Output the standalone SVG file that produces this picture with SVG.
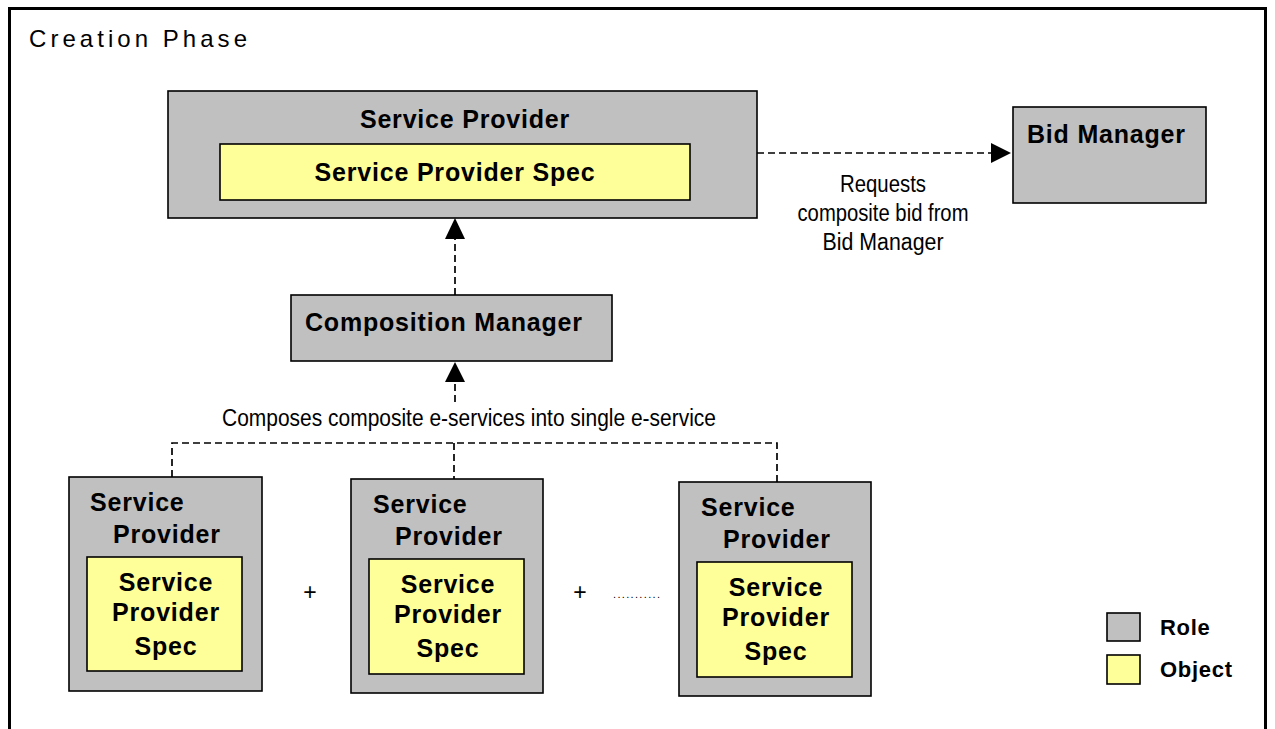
<svg xmlns="http://www.w3.org/2000/svg" width="1275" height="729" viewBox="0 0 1275 729">
<style>
.role{fill:#c0c0c0;stroke:#000;stroke-width:1.6}
.obj{fill:#ffff99;stroke:#000;stroke-width:1.6}
.b{font-family:"Liberation Sans",Arial,sans-serif;font-weight:bold;font-size:25px;letter-spacing:0.8px;fill:#000}
.bc{text-anchor:middle}
.n{font-family:"Liberation Sans Narrow","Liberation Sans",Arial,sans-serif;font-size:23px;fill:#000}
.dash{fill:none;stroke:#000;stroke-width:1.7;stroke-dasharray:7,4}
.lg{font-family:"Liberation Sans",Arial,sans-serif;font-weight:bold;font-size:22px;letter-spacing:0.7px;fill:#000}
</style>
<rect width="1275" height="729" fill="#fff"/>
<rect x="9.5" y="8.5" width="1256" height="740" fill="none" stroke="#000" stroke-width="3"/>
<text x="29" y="47" font-family="'Liberation Sans',Arial,sans-serif" font-size="24" textLength="218" lengthAdjust="spacing">Creation Phase</text>

<g id="connectors">
<path class="dash" d="M757,153 H992"/>
<path d="M1011,153 L991,143 L991,163 z" fill="#000"/>
<path class="dash" d="M455,295 V239"/>
<path d="M455,218 L445,239 L465,239 z" fill="#000"/>
<path class="dash" d="M455,402 V382"/>
<path d="M455,362 L445,382 L465,382 z" fill="#000"/>
<path class="dash" d="M172,477 V443 H777 V482"/>
<path class="dash" d="M454,443 V479"/>
<text class="n" x="883" y="192" text-anchor="middle" textLength="86" lengthAdjust="spacingAndGlyphs">Requests</text>
<text class="n" x="883" y="221" text-anchor="middle" textLength="171" lengthAdjust="spacingAndGlyphs">composite bid from</text>
<text class="n" x="883" y="250" text-anchor="middle" textLength="121" lengthAdjust="spacingAndGlyphs">Bid Manager</text>
<text class="n" x="222" y="426" textLength="494" lengthAdjust="spacingAndGlyphs">Composes composite e-services into single e-service</text>
</g>

<g id="service-provider-top">
<rect class="role" x="168" y="91" width="589" height="127"/>
<text class="b bc" x="465" y="128">Service Provider</text>
<rect class="obj" x="220" y="144" width="470" height="56"/>
<text class="b bc" x="455" y="181">Service Provider Spec</text>
</g>

<g id="bid-manager">
<rect class="role" x="1013" y="107" width="193" height="96"/>
<text class="b" x="1027" y="143">Bid Manager</text>
</g>

<g id="composition-manager">
<rect class="role" x="291" y="295" width="321" height="66"/>
<text class="b" x="305" y="331">Composition Manager</text>
</g>

<g id="service-provider-1">
<rect class="role" x="69" y="477" width="193" height="214"/>
<text class="b" x="90" y="511">Service</text>
<text class="b" x="113" y="543">Provider</text>
<rect class="obj" x="87" y="557" width="155" height="114"/>
<text class="b bc" x="166" y="591">Service</text>
<text class="b bc" x="166" y="621">Provider</text>
<text class="b bc" x="166" y="655">Spec</text>
</g>

<g id="service-provider-2">
<rect class="role" x="351" y="479" width="192" height="214"/>
<text class="b" x="373" y="513">Service</text>
<text class="b" x="395" y="545">Provider</text>
<rect class="obj" x="369" y="559" width="155" height="115"/>
<text class="b bc" x="448" y="593">Service</text>
<text class="b bc" x="448" y="623">Provider</text>
<text class="b bc" x="448" y="657">Spec</text>
</g>

<g id="service-provider-3">
<rect class="role" x="679" y="482" width="192" height="214"/>
<text class="b" x="701" y="516">Service</text>
<text class="b" x="723" y="548">Provider</text>
<rect class="obj" x="697" y="562" width="155" height="115"/>
<text class="b bc" x="776" y="596">Service</text>
<text class="b bc" x="776" y="626">Provider</text>
<text class="b bc" x="776" y="660">Spec</text>
</g>

<g id="operators" font-family="'Liberation Sans',Arial,sans-serif" fill="#000">
<text x="310" y="600" font-size="23" text-anchor="middle">+</text>
<text x="580" y="600" font-size="23" text-anchor="middle">+</text>
<text x="613" y="598" font-size="11" textLength="47" lengthAdjust="spacing">...........</text>
</g>

<g id="legend">
<rect class="role" x="1107" y="613" width="33" height="28"/>
<text class="lg" x="1160" y="635">Role</text>
<rect class="obj" x="1107" y="655" width="33" height="29"/>
<text class="lg" x="1160" y="677">Object</text>
</g>
</svg>
